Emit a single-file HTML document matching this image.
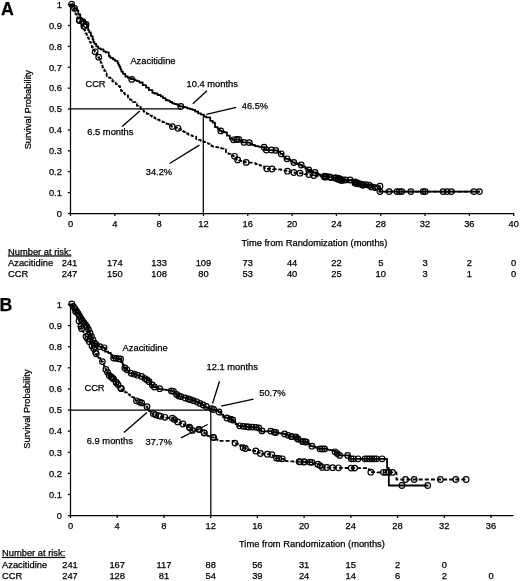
<!DOCTYPE html>
<html><head><meta charset="utf-8"><title>Survival curves</title>
<style>html,body{margin:0;padding:0;background:#fff}svg{display:block;filter:grayscale(1)}text{font-family:"Liberation Sans",sans-serif}</style></head>
<body>
<svg width="520" height="581" viewBox="0 0 520 581">
<rect width="520" height="581" fill="#fff"/>
<g stroke="#000" stroke-width="1.25" fill="none">
<line x1="70.5" y1="3.5999999999999996" x2="70.5" y2="214.0"/><line x1="70.0" y1="213.5" x2="513.8" y2="213.5"/><line x1="67.8" y1="213.50" x2="71.0" y2="213.50"/><line x1="67.8" y1="192.61" x2="71.0" y2="192.61"/><line x1="67.8" y1="171.72" x2="71.0" y2="171.72"/><line x1="67.8" y1="150.83" x2="71.0" y2="150.83"/><line x1="67.8" y1="129.94" x2="71.0" y2="129.94"/><line x1="67.8" y1="109.05" x2="71.0" y2="109.05"/><line x1="67.8" y1="88.16" x2="71.0" y2="88.16"/><line x1="67.8" y1="67.27" x2="71.0" y2="67.27"/><line x1="67.8" y1="46.38" x2="71.0" y2="46.38"/><line x1="67.8" y1="25.49" x2="71.0" y2="25.49"/><line x1="67.8" y1="4.60" x2="71.0" y2="4.60"/><line x1="70.50" y1="212.7" x2="70.50" y2="215.9"/><line x1="114.82" y1="212.7" x2="114.82" y2="215.9"/><line x1="159.14" y1="212.7" x2="159.14" y2="215.9"/><line x1="203.46" y1="212.7" x2="203.46" y2="215.9"/><line x1="247.78" y1="212.7" x2="247.78" y2="215.9"/><line x1="292.10" y1="212.7" x2="292.10" y2="215.9"/><line x1="336.42" y1="212.7" x2="336.42" y2="215.9"/><line x1="380.74" y1="212.7" x2="380.74" y2="215.9"/><line x1="425.06" y1="212.7" x2="425.06" y2="215.9"/><line x1="469.38" y1="212.7" x2="469.38" y2="215.9"/><line x1="513.70" y1="212.7" x2="513.70" y2="215.9"/>
<line x1="70.5" y1="108.8" x2="181" y2="108.8"/>
<line x1="203.3" y1="116.6" x2="203.3" y2="213.8"/>
<line x1="70.5" y1="303.5" x2="70.5" y2="516.1"/><line x1="70.0" y1="515.6" x2="513.5" y2="515.6"/><line x1="67.8" y1="515.60" x2="71.0" y2="515.60"/><line x1="67.8" y1="494.49" x2="71.0" y2="494.49"/><line x1="67.8" y1="473.38" x2="71.0" y2="473.38"/><line x1="67.8" y1="452.27" x2="71.0" y2="452.27"/><line x1="67.8" y1="431.16" x2="71.0" y2="431.16"/><line x1="67.8" y1="410.05" x2="71.0" y2="410.05"/><line x1="67.8" y1="388.94" x2="71.0" y2="388.94"/><line x1="67.8" y1="367.83" x2="71.0" y2="367.83"/><line x1="67.8" y1="346.72" x2="71.0" y2="346.72"/><line x1="67.8" y1="325.61" x2="71.0" y2="325.61"/><line x1="67.8" y1="304.50" x2="71.0" y2="304.50"/><line x1="70.50" y1="514.8000000000001" x2="70.50" y2="518.0"/><line x1="117.22" y1="514.8000000000001" x2="117.22" y2="518.0"/><line x1="163.94" y1="514.8000000000001" x2="163.94" y2="518.0"/><line x1="210.66" y1="514.8000000000001" x2="210.66" y2="518.0"/><line x1="257.38" y1="514.8000000000001" x2="257.38" y2="518.0"/><line x1="304.10" y1="514.8000000000001" x2="304.10" y2="518.0"/><line x1="350.82" y1="514.8000000000001" x2="350.82" y2="518.0"/><line x1="397.54" y1="514.8000000000001" x2="397.54" y2="518.0"/><line x1="444.26" y1="514.8000000000001" x2="444.26" y2="518.0"/><line x1="490.98" y1="514.8000000000001" x2="490.98" y2="518.0"/>
<line x1="70.5" y1="410" x2="210.8" y2="410"/>
<line x1="210.8" y1="410" x2="210.8" y2="515.5"/>
</g>
<g stroke="#000" stroke-width="1.35" fill="none">
<line x1="139.8" y1="111" x2="122.1" y2="126.6"/>
<line x1="207" y1="90.7" x2="192.8" y2="103.8"/>
<line x1="236.2" y1="107.3" x2="206.4" y2="114.4"/>
<line x1="169.6" y1="163.5" x2="199.4" y2="145.1"/>
<line x1="147" y1="412.4" x2="123.9" y2="432.5"/>
<line x1="180.9" y1="437.8" x2="207.7" y2="424.5"/>
<line x1="219.5" y1="381.2" x2="212.6" y2="403.4"/>
<line x1="253.5" y1="399.2" x2="221.2" y2="406.2"/>
</g>
<g stroke="#000" fill="none" stroke-linejoin="round">
<path d="M71.6,4.2 L72.7,4.2 L72.7,5.5 L74.4,5.5 L74.4,8.4 L75.8,8.4 L76.8,8.4 L76.8,10.4 L78.3,10.4 L78.3,14.5 L79.5,14.5 L80.3,14.5 L80.3,18.4 L81.9,18.4 L81.9,19.9 L83.1,19.9 L83.9,19.9 L83.9,22.2 L86.0,22.2 L86.0,24.1 L87.3,24.1 L87.7,24.1 L87.7,27.5 L88.1,27.5 L88.1,30.1 L88.5,30.1 L89.2,30.1 L89.2,32.3 L90.9,32.3 L90.9,36.1 L92.1,36.1 L92.6,36.1 L92.6,39.2 L93.4,39.2 L93.4,42.2 L93.9,42.2 L94.5,42.2 L94.5,43.9 L96.2,43.9 L96.2,46.4 L96.9,46.4 L98.2,46.4 L98.2,48.3 L100.6,48.3 L100.6,49.4 L102.3,49.4 L103.5,49.4 L103.5,51.3 L105.8,51.3 L105.8,52.4 L107.2,52.4 L108.8,52.4 L108.8,56.1 L110.3,56.1 L110.3,57.8 L111.4,57.8 L113.0,57.8 L113.0,59.4 L115.0,59.4 L115.0,60.8 L116.8,60.8 L117.6,60.8 L117.6,63.0 L118.5,63.0 L118.5,65.1 L119.2,65.1 L119.6,65.1 L119.6,67.0 L120.5,67.0 L120.5,69.3 L121.0,69.3 L121.4,69.3 L121.4,71.7 L123.0,71.7 L123.0,73.8 L123.8,73.8 L125.3,73.8 L125.3,76.5 L127.0,76.5 L127.9,76.5 L127.9,77.8 L130.7,77.8 L130.7,79.0 L131.7,79.0 L133.3,79.0 L133.3,79.4 L135.1,79.4 L135.1,80.3 L137.1,80.3 L137.1,81.2 L139.4,81.2 L139.4,82.5 L141.1,82.5 L142.7,82.5 L142.7,85.2 L146.1,85.2 L146.1,87.7 L147.2,87.7 L148.9,87.7 L148.9,90.2 L152.4,90.2 L152.4,92.9 L153.3,92.9 L154.5,92.9 L154.5,93.5 L157.5,93.5 L157.5,95.0 L160.7,95.0 L160.7,96.3 L161.9,96.3 L162.9,96.3 L162.9,98.1 L165.6,98.1 L165.6,100.0 L167.8,100.0 L167.8,100.7 L168.8,100.7 L170.0,100.7 L170.0,102.0 L172.2,102.0 L172.2,103.3 L174.6,103.3 L174.6,104.1 L175.7,104.1 L177.6,104.1 L177.6,105.3 L179.8,105.3 L179.8,106.4 L180.9,106.4 L182.5,106.4 L182.5,107.0 L185.0,107.0 L185.0,107.3 L187.2,107.3 L187.2,108.3 L189.9,108.3 L189.9,109.1 L191.2,109.1 L192.4,109.1 L192.4,109.8 L195.1,109.8 L195.1,111.5 L198.1,111.5 L198.1,113.4 L199.6,113.4 L201.0,113.4 L201.0,114.6 L203.9,114.6 L203.9,116.5 L204.9,116.5 L206.2,116.5 L206.2,117.4 L210.2,117.4 L210.2,120.8 L211.3,120.8 L212.8,120.8 L212.8,122.7 L215.0,122.7 L215.0,127.1 L216.5,127.1 L217.7,127.1 L217.7,128.8 L219.8,128.8 L219.8,130.9 L220.8,130.9 L221.7,130.9 L221.7,131.8 L224.8,131.8 L224.8,132.4 L226.1,132.4 L227.0,132.4 L227.0,135.7 L229.8,135.7 L229.8,138.8 L231.3,138.8 L232.4,138.8 L232.4,139.8 L233.5,139.8 L235.1,139.8 L235.1,139.7 L237.8,139.7 L237.8,139.4 L238.8,139.4 L239.7,139.4 L239.7,140.5 L242.4,140.5 L242.4,142.4 L244.0,142.4 L245.5,142.4 L245.5,142.5 L248.4,142.5 L248.4,142.6 L249.3,142.6 L250.3,142.6 L250.3,144.0 L252.2,144.0 L252.2,145.0 L255.0,145.0 L255.0,146.2 L256.7,146.2 L258.2,146.2 L258.2,146.6 L259.8,146.6 L259.8,146.9 L262.5,146.9 L262.5,147.2 L264.1,147.2 L264.9,147.2 L264.9,150.0 L266.3,150.0 L267.6,150.0 L267.6,150.2 L270.5,150.2 L270.5,150.2 L272.4,150.2 L272.4,150.3 L274.4,150.3 L274.4,150.4 L275.8,150.4 L277.4,150.4 L277.4,152.0 L280.4,152.0 L280.4,153.8 L281.2,153.8 L282.9,153.8 L282.9,156.6 L285.5,156.6 L285.5,158.8 L287.0,158.8 L288.3,158.8 L288.3,159.7 L290.5,159.7 L290.5,161.1 L292.5,161.1 L292.5,162.5 L293.8,162.5 L294.9,162.5 L294.9,163.5 L297.4,163.5 L297.4,164.2 L300.0,164.2 L300.0,165.0 L301.2,165.0 L302.1,165.0 L302.1,166.6 L305.4,166.6 L305.4,168.7 L307.6,168.7 L307.6,170.0 L308.8,170.0 L310.7,170.0 L310.7,171.8 L313.5,171.8 L313.5,172.5 L315.0,172.5 L316.3,172.5 L316.3,173.4 L318.4,173.4 L318.4,174.5 L320.1,174.5 L320.1,175.5 L323.5,175.5 L323.5,176.2 L324.5,176.2 L325.8,176.2 L325.8,176.8 L328.5,176.8 L328.5,177.1 L331.6,177.1 L331.6,177.5 L332.5,177.5 L333.9,177.5 L333.9,177.7 L336.3,177.7 L336.3,178.0 L337.5,178.0 L338.7,178.0 L338.7,178.9 L341.3,178.9 L341.3,180.0 L342.5,180.0 L350.0,180.0 L351.5,180.0 L351.5,181.4 L354.7,181.4 L354.7,182.5 L356.2,182.5 L357.9,182.5 L357.9,183.3 L361.5,183.3 L361.5,184.5 L362.5,184.5 L364.8,184.5 L364.8,184.8 L367.5,184.8 L367.5,185.0 L368.8,185.0 L370.3,185.0 L370.3,185.6 L372.8,185.6 L372.8,186.2 L375.0,186.2 L380.0,186.2 L380.0,191.6 L480.0,191.6" stroke-width="1.8"/>
<path d="M71.6,4.2 L71.9,4.2 L71.9,6.3 L72.8,6.3 L72.8,8.6 L73.7,8.6 L73.7,9.6 L74.0,9.6 L74.6,9.6 L74.6,12.5 L75.5,12.5 L75.5,13.8 L76.4,13.8 L76.4,15.7 L77.0,15.7 L77.5,15.7 L77.5,17.9 L78.3,17.9 L78.3,18.6 L79.1,18.6 L79.1,20.5 L79.5,20.5 L80.0,20.5 L80.0,21.2 L80.6,21.2 L80.6,23.5 L81.5,23.5 L81.5,25.4 L82.6,25.4 L82.6,27.7 L83.1,27.7 L83.5,27.7 L83.5,28.8 L84.5,28.8 L84.5,30.5 L85.3,30.5 L85.3,33.4 L86.8,33.4 L86.8,36.1 L87.3,36.1 L87.7,36.1 L87.7,37.5 L88.5,37.5 L88.5,38.8 L89.8,38.8 L89.8,42.1 L90.9,42.1 L90.9,44.6 L91.5,44.6 L91.8,44.6 L91.8,47.0 L92.9,47.0 L92.9,47.8 L93.8,47.8 L93.8,50.2 L94.8,50.2 L94.8,51.8 L95.1,51.8 L95.6,51.8 L95.6,53.1 L96.7,53.1 L96.7,55.6 L98.2,55.6 L98.2,57.2 L98.7,57.2 L99.1,57.2 L99.1,58.7 L99.9,58.7 L99.9,60.2 L100.7,60.2 L100.7,62.7 L101.1,62.7 L101.5,62.7 L101.5,64.5 L102.5,64.5 L102.5,67.5 L103.2,67.5 L103.2,69.3 L103.6,69.3 L104.3,69.3 L104.3,70.9 L105.6,70.9 L105.6,73.5 L106.1,73.5 L106.7,73.5 L106.7,76.1 L108.9,76.1 L108.9,77.7 L110.6,77.7 L110.6,79.5 L111.5,79.5 L112.4,79.5 L112.4,81.3 L114.6,81.3 L114.6,82.9 L115.9,82.9 L115.9,84.2 L116.9,84.2 L117.7,84.2 L117.7,85.2 L118.7,85.2 L118.7,86.1 L120.0,86.1 L120.0,88.4 L121.1,88.4 L121.1,90.9 L123.1,90.9 L123.1,92.9 L123.8,92.9 L124.7,92.9 L124.7,94.3 L126.3,94.3 L126.3,95.3 L128.0,95.3 L128.0,97.5 L130.0,97.5 L130.0,99.8 L130.8,99.8 L131.7,99.8 L131.7,100.5 L133.1,100.5 L133.1,102.1 L135.5,102.1 L135.5,103.9 L136.9,103.9 L136.9,105.8 L137.7,105.8 L138.5,105.8 L138.5,107.0 L140.7,107.0 L140.7,109.1 L142.0,109.1 L142.0,110.2 L142.9,110.2 L143.5,110.2 L143.5,111.5 L145.2,111.5 L145.2,112.7 L146.7,112.7 L146.7,113.9 L148.8,113.9 L148.8,115.4 L149.8,115.4 L150.6,115.4 L150.6,115.7 L152.0,115.7 L152.0,116.8 L154.3,116.8 L154.3,117.9 L155.5,117.9 L155.5,118.7 L157.5,118.7 L157.5,119.7 L158.4,119.7 L159.5,119.7 L159.5,120.6 L160.7,120.6 L160.7,121.5 L162.5,121.5 L162.5,122.2 L164.3,122.2 L164.3,123.1 L165.4,123.1 L166.5,123.1 L166.5,123.9 L168.8,123.9 L168.8,124.3 L170.4,124.3 L170.4,125.6 L171.6,125.6 L171.6,126.6 L172.3,126.6 L173.3,126.6 L173.3,126.8 L175.2,126.8 L175.2,127.6 L177.1,127.6 L177.1,128.3 L178.0,128.3 L178.9,128.3 L178.9,128.9 L180.8,128.9 L180.8,129.7 L182.8,129.7 L182.8,131.2 L184.0,131.2 L184.0,132.0 L186.2,132.0 L186.2,133.5 L186.9,133.5 L188.3,133.5 L188.3,134.5 L190.4,134.5 L190.4,135.3 L192.2,135.3 L192.2,136.2 L194.2,136.2 L194.2,136.6 L195.4,136.6 L196.2,136.6 L196.2,139.0 L198.0,139.0 L198.0,139.9 L200.7,139.9 L200.7,140.9 L201.7,140.9 L202.4,140.9 L202.4,141.7 L204.4,141.7 L204.4,142.1 L206.3,142.1 L206.3,143.2 L208.3,143.2 L208.3,143.8 L209.7,143.8 L209.7,145.0 L211.5,145.0 L211.5,146.2 L212.3,146.2 L212.8,146.2 L212.8,146.5 L214.6,146.5 L214.6,147.0 L216.8,147.0 L216.8,147.3 L219.3,147.3 L219.3,147.7 L221.0,147.7 L221.0,148.4 L222.4,148.4 L222.4,148.7 L223.8,148.7 L223.8,149.3 L225.0,149.3 L225.9,149.3 L225.9,152.0 L228.4,152.0 L228.4,153.8 L230.6,153.8 L230.6,154.6 L231.3,154.6 L231.8,154.6 L231.8,155.6 L233.6,155.6 L233.6,156.3 L234.5,156.3 L235.2,156.3 L235.2,157.1 L236.6,157.1 L236.6,159.9 L237.7,159.9 L238.9,159.9 L238.9,160.4 L240.2,160.4 L240.2,160.9 L242.7,160.9 L242.7,161.4 L245.0,161.4 L245.0,162.4 L246.2,162.4 L247.5,162.4 L247.5,162.5 L249.6,162.5 L249.6,162.7 L251.9,162.7 L251.9,162.8 L253.8,162.8 L253.8,163.1 L254.6,163.1 L255.6,163.1 L255.6,164.0 L257.6,164.0 L257.6,164.8 L260.1,164.8 L260.1,165.6 L262.0,165.6 L262.0,166.3 L263.1,166.3 L264.1,166.3 L264.1,168.1 L266.1,168.1 L266.1,168.8 L266.9,168.8 L267.8,168.8 L267.8,168.9 L269.3,168.9 L269.3,168.9 L271.1,168.9 L271.1,169.0 L272.0,169.0 L272.8,169.0 L272.8,169.1 L274.9,169.1 L274.9,169.2 L276.8,169.2 L276.8,169.3 L278.7,169.3 L278.7,169.4 L280.0,169.4 L281.2,169.4 L281.2,170.0 L283.3,170.0 L283.3,170.4 L285.0,170.4 L285.0,170.7 L286.6,170.7 L286.6,171.2 L287.5,171.2 L289.1,171.2 L289.1,171.6 L291.3,171.6 L291.3,172.2 L292.9,172.2 L292.9,172.5 L293.8,172.5 L294.6,172.5 L294.6,172.8 L296.3,172.8 L296.3,173.0 L298.6,173.0 L298.6,173.2 L300.0,173.2 L301.0,173.2 L301.0,173.4 L302.8,173.4 L302.8,173.7 L304.5,173.7 L304.5,174.0 L305.8,174.0 L305.8,174.3 L307.4,174.3 L307.4,174.5 L308.8,174.5 L309.5,174.5 L309.5,174.9 L311.1,174.9 L311.1,175.2 L312.8,175.2 L312.8,175.5 L313.8,175.5 L314.3,175.5 L314.3,175.7 L315.5,175.7 L315.5,176.0 L317.7,176.0 L317.7,176.3 L320.1,176.3 L320.1,176.5 L321.9,176.5 L321.9,176.9 L323.9,176.9 L323.9,177.0 L324.5,177.0 L325.1,177.0 L325.1,177.2 L326.3,177.2 L326.3,177.4 L328.0,177.4 L328.0,177.6 L329.9,177.6 L329.9,177.7 L332.1,177.7 L332.1,177.9 L334.1,177.9 L334.1,178.0 L335.0,178.0 L336.1,178.0 L336.1,178.5 L338.0,178.5 L338.0,179.2 L339.4,179.2 L339.4,180.0 L340.0,180.0 L340.8,180.0 L340.8,180.6 L342.2,180.6 L342.2,181.0 L344.5,181.0 L344.5,181.6 L346.9,181.6 L346.9,181.9 L349.0,181.9 L349.0,182.2 L350.7,182.2 L350.7,182.4 L353.2,182.4 L353.2,183.0 L354.5,183.0 L354.5,183.5 L356.4,183.5 L356.4,183.8 L357.5,183.8 L358.1,183.8 L358.1,184.5 L360.1,184.5 L360.1,185.0 L361.2,185.0 L362.4,185.0 L362.4,185.4 L365.2,185.4 L365.2,185.8 L366.8,185.8 L366.8,186.1 L368.1,186.1 L368.1,186.3 L369.9,186.3 L369.9,186.8 L371.8,186.8 L371.8,187.1 L374.2,187.1 L374.2,187.5 L375.0,187.5 L375.7,187.5 L375.7,189.5 L377.1,189.5 L377.1,190.8 L379.3,190.8 L379.3,191.6 L380.0,191.6 L480.0,191.6" stroke-width="1.8" stroke-dasharray="4 2.1"/>
<path d="M71.8,304.0 L72.5,304.0 L72.5,306.3 L74.1,306.3 L74.1,309.7 L76.1,309.7 L76.1,312.3 L77.3,312.3 L78.8,312.3 L78.8,314.3 L80.4,314.3 L80.4,317.7 L81.8,317.7 L81.8,321.0 L82.5,321.0 L83.3,321.0 L83.3,322.2 L85.2,322.2 L85.2,325.3 L87.1,325.3 L87.1,327.9 L87.7,327.9 L88.1,327.9 L88.1,331.3 L89.5,331.3 L89.5,334.0 L90.6,334.0 L90.6,335.7 L91.2,335.7 L91.7,335.7 L91.7,339.7 L92.7,339.7 L92.7,341.3 L94.2,341.3 L94.2,343.4 L94.6,343.4 L96.0,343.4 L96.0,344.4 L98.8,344.4 L98.8,346.6 L99.8,346.6 L100.7,346.6 L100.7,347.0 L103.3,347.0 L103.3,347.8 L104.1,347.8 L105.1,347.8 L105.1,351.7 L108.2,351.7 L108.2,353.0 L110.2,353.0 L110.9,353.0 L110.9,354.8 L112.2,354.8 L112.2,358.1 L113.6,358.1 L115.1,358.1 L115.1,358.4 L117.1,358.4 L117.1,358.6 L119.0,358.6 L119.0,359.0 L120.6,359.0 L121.3,359.0 L121.3,362.2 L122.7,362.2 L122.7,364.7 L123.8,364.7 L123.8,368.0 L124.8,368.0 L126.0,368.0 L126.0,370.7 L129.2,370.7 L129.2,373.3 L131.2,373.3 L132.4,373.3 L132.4,373.7 L134.6,373.7 L134.6,374.6 L137.2,374.6 L137.2,375.5 L139.9,375.5 L139.9,376.4 L141.7,376.4 L143.5,376.4 L143.5,378.5 L146.8,378.5 L146.8,380.7 L148.1,380.7 L150.4,380.7 L150.4,384.8 L153.0,384.8 L153.0,387.0 L154.4,387.0 L155.8,387.0 L155.8,387.7 L158.5,387.7 L158.5,389.1 L160.8,389.1 L162.5,389.1 L162.5,389.6 L166.1,389.6 L166.1,390.2 L167.1,390.2 L168.6,390.2 L168.6,390.7 L172.1,390.7 L172.1,391.3 L173.5,391.3 L174.5,391.3 L174.5,393.6 L176.6,393.6 L176.6,395.5 L177.7,395.5 L178.8,395.5 L178.8,396.7 L182.7,396.7 L182.7,397.6 L184.0,397.6 L186.2,397.6 L186.2,398.7 L188.9,398.7 L188.9,399.7 L190.4,399.7 L192.3,399.7 L192.3,400.4 L195.4,400.4 L195.4,401.8 L196.7,401.8 L198.4,401.8 L198.4,403.2 L201.0,403.2 L201.0,405.0 L203.1,405.0 L203.9,405.0 L203.9,406.9 L206.3,406.9 L206.3,407.5 L209.3,407.5 L209.3,408.5 L210.8,408.5 L211.6,408.5 L211.6,409.4 L213.3,409.4 L213.3,409.9 L216.5,409.9 L216.5,410.8 L217.7,410.8 L218.7,410.8 L218.7,412.0 L220.5,412.0 L220.5,414.6 L223.1,414.6 L223.1,417.2 L224.6,417.2 L225.9,417.2 L225.9,417.9 L229.0,417.9 L229.0,418.9 L231.4,418.9 L231.4,420.0 L232.7,420.0 L233.8,420.0 L233.8,421.8 L235.5,421.8 L235.5,424.0 L238.0,424.0 L238.0,425.8 L239.6,425.8 L241.5,425.8 L241.5,426.1 L244.7,426.1 L244.7,426.5 L246.7,426.5 L246.7,426.9 L247.7,426.9 L248.7,426.9 L248.7,427.0 L250.8,427.0 L250.8,427.2 L254.2,427.2 L254.2,427.3 L256.9,427.3 L256.9,427.4 L258.1,427.4 L259.1,427.4 L259.1,430.1 L261.2,430.1 L261.2,431.5 L262.7,431.5 L263.9,431.5 L263.9,431.3 L267.5,431.3 L267.5,431.2 L269.9,431.2 L269.9,431.1 L270.8,431.1 L272.0,431.1 L272.0,432.0 L275.3,432.0 L275.3,432.7 L276.5,432.7 L277.8,432.7 L277.8,433.2 L280.5,433.2 L280.5,433.5 L283.8,433.5 L283.8,433.9 L284.6,433.9 L285.5,433.9 L285.5,434.4 L287.4,434.4 L287.4,435.3 L289.9,435.3 L289.9,436.6 L291.5,436.6 L293.1,436.6 L293.1,436.7 L295.0,436.7 L295.0,436.9 L295.8,436.9 L297.1,436.9 L297.1,438.6 L298.7,438.6 L298.7,441.5 L300.4,441.5 L301.9,441.5 L301.9,441.8 L305.2,441.8 L305.2,442.0 L306.2,442.0 L307.3,442.0 L307.3,444.0 L310.4,444.0 L310.4,446.2 L311.9,446.2 L313.1,446.2 L313.1,446.7 L315.6,446.7 L315.6,447.7 L317.9,447.7 L317.9,448.9 L318.8,448.9 L326.9,448.9 L327.7,448.9 L327.7,449.8 L330.2,449.8 L330.2,450.1 L333.0,450.1 L333.0,450.8 L333.8,450.8 L335.3,450.8 L335.3,452.9 L338.4,452.9 L338.4,455.4 L339.6,455.4 L347.7,455.4 L349.3,455.4 L349.3,458.8 L351.2,458.8 L387.1,458.8 L387.1,468.0 L388.8,468.0 L388.8,485.5 L428.4,485.5" stroke-width="1.8"/>
<path d="M71.8,304.0 L72.3,304.0 L72.3,306.3 L73.0,306.3 L73.0,308.7 L74.1,308.7 L74.1,310.3 L75.2,310.3 L75.2,311.4 L75.6,311.4 L76.0,311.4 L76.0,313.6 L76.6,313.6 L76.6,314.6 L77.2,314.6 L77.2,317.1 L78.0,317.1 L78.0,318.2 L78.6,318.2 L78.6,321.0 L79.0,321.0 L79.4,321.0 L79.4,323.3 L80.1,323.3 L80.1,324.2 L80.6,324.2 L80.6,326.3 L81.3,326.3 L81.3,328.7 L81.6,328.7 L82.2,328.7 L82.2,331.1 L83.4,331.1 L83.4,333.5 L84.2,333.5 L84.2,334.4 L85.5,334.4 L85.5,336.5 L86.0,336.5 L86.8,336.5 L86.8,337.6 L87.6,337.6 L87.6,340.3 L88.7,340.3 L88.7,341.7 L89.4,341.7 L90.1,341.7 L90.1,343.4 L90.8,343.4 L90.8,345.7 L91.9,345.7 L91.9,347.6 L93.3,347.6 L93.3,348.6 L93.7,348.6 L94.0,348.6 L94.0,350.8 L94.6,350.8 L94.6,351.8 L95.8,351.8 L95.8,353.8 L96.3,353.8 L96.8,353.8 L96.8,355.8 L98.4,355.8 L98.4,357.9 L100.1,357.9 L100.1,360.6 L101.4,360.6 L101.4,361.6 L102.4,361.6 L103.0,361.6 L103.0,364.2 L103.8,364.2 L103.8,365.9 L104.6,365.9 L104.6,367.3 L105.6,367.3 L105.6,369.4 L105.9,369.4 L106.5,369.4 L106.5,372.0 L107.4,372.0 L107.4,373.2 L108.9,373.2 L108.9,375.4 L109.3,375.4 L110.3,375.4 L110.3,376.6 L111.9,376.6 L111.9,377.9 L113.6,377.9 L113.6,379.6 L114.2,379.6 L115.0,379.6 L115.0,381.7 L116.5,381.7 L116.5,385.5 L118.0,385.5 L118.0,386.8 L120.1,386.8 L120.1,388.1 L120.6,388.1 L121.6,388.1 L121.6,389.7 L123.1,389.7 L123.1,391.4 L125.0,391.4 L125.0,392.3 L125.9,392.3 L126.9,392.3 L126.9,393.5 L128.7,393.5 L128.7,394.6 L130.0,394.6 L130.0,395.5 L131.2,395.5 L132.0,395.5 L132.0,397.1 L133.9,397.1 L133.9,398.1 L135.7,398.1 L135.7,400.8 L136.4,400.8 L137.3,400.8 L137.3,401.7 L138.9,401.7 L138.9,402.5 L140.9,402.5 L140.9,402.9 L141.7,402.9 L143.0,402.9 L143.0,403.9 L144.2,403.9 L144.2,404.7 L146.1,404.7 L146.1,406.7 L147.0,406.7 L147.5,406.7 L147.5,408.9 L149.1,408.9 L149.1,411.3 L150.2,411.3 L151.3,411.3 L151.3,413.5 L153.3,413.5 L153.3,414.5 L154.4,414.5 L155.3,414.5 L155.3,415.2 L157.0,415.2 L157.0,415.8 L158.3,415.8 L158.3,416.0 L159.7,416.0 L160.7,416.0 L160.7,416.6 L162.6,416.6 L162.6,417.0 L164.1,417.0 L164.1,417.3 L165.0,417.3 L165.8,417.3 L165.8,417.6 L167.1,417.6 L167.1,417.8 L168.8,417.8 L168.8,417.9 L171.2,417.9 L171.2,418.1 L172.4,418.1 L173.2,418.1 L173.2,419.4 L175.3,419.4 L175.3,421.2 L177.0,421.2 L177.0,421.9 L177.7,421.9 L179.1,421.9 L179.1,422.6 L180.4,422.6 L180.4,423.3 L182.2,423.3 L182.2,424.0 L183.0,424.0 L183.9,424.0 L183.9,425.2 L186.7,425.2 L186.7,426.2 L188.5,426.2 L188.5,427.2 L189.3,427.2 L190.0,427.2 L190.0,428.9 L191.9,428.9 L191.9,430.4 L192.5,430.4 L193.7,430.4 L193.7,430.1 L195.5,430.1 L195.5,429.8 L197.8,429.8 L197.8,429.3 L198.8,429.3 L199.6,429.3 L199.6,430.1 L202.6,430.1 L202.6,432.2 L204.3,432.2 L204.3,433.4 L205.0,433.4 L205.9,433.4 L205.9,434.6 L207.4,434.6 L207.4,435.8 L208.9,435.8 L208.9,436.2 L211.7,436.2 L211.7,437.3 L213.1,437.3 L213.8,437.3 L213.8,438.3 L215.7,438.3 L215.7,439.4 L217.5,439.4 L217.5,440.4 L219.5,440.4 L219.5,440.8 L220.0,440.8 L232.7,440.8 L233.9,440.8 L233.9,443.1 L235.0,443.1 L236.1,443.1 L236.1,444.2 L238.2,444.2 L238.2,445.0 L240.0,445.0 L240.0,445.8 L242.2,445.8 L242.2,447.7 L243.1,447.7 L243.9,447.7 L243.9,448.2 L245.8,448.2 L245.8,449.0 L247.8,449.0 L247.8,449.5 L249.1,449.5 L249.1,450.0 L250.0,450.0 L251.1,450.0 L251.1,450.3 L252.7,450.3 L252.7,450.6 L254.7,450.6 L254.7,451.0 L256.4,451.0 L256.4,451.2 L256.9,451.2 L257.9,451.2 L257.9,452.9 L259.7,452.9 L259.7,453.5 L260.4,453.5 L261.7,453.5 L261.7,453.8 L263.2,453.8 L263.2,453.8 L264.5,453.8 L264.5,454.0 L266.0,454.0 L266.0,454.2 L267.3,454.2 L268.8,454.2 L268.8,454.3 L270.7,454.3 L270.7,454.6 L271.9,454.6 L272.8,454.6 L272.8,455.8 L275.6,455.8 L275.6,458.1 L276.5,458.1 L277.6,458.1 L277.6,458.3 L279.1,458.3 L279.1,458.6 L281.6,458.6 L281.6,458.8 L282.3,458.8 L283.6,458.8 L283.6,459.7 L285.8,459.7 L285.8,461.1 L286.9,461.1 L287.6,461.1 L287.6,461.2 L290.2,461.2 L290.2,461.3 L291.4,461.3 L291.4,461.4 L293.0,461.4 L293.0,461.5 L293.8,461.5 L294.5,461.5 L294.5,461.6 L296.4,461.6 L296.4,461.7 L298.3,461.7 L298.3,461.7 L300.6,461.7 L300.6,461.8 L302.9,461.8 L302.9,461.9 L305.0,461.9 L305.0,462.0 L306.6,462.0 L306.6,462.1 L308.3,462.1 L308.3,462.2 L309.6,462.2 L309.6,462.2 L312.0,462.2 L312.0,462.3 L313.1,462.3 L313.8,462.3 L313.8,463.0 L315.9,463.0 L315.9,463.7 L318.2,463.7 L318.2,464.6 L318.8,464.6 L319.9,464.6 L319.9,465.4 L321.4,465.4 L321.4,467.4 L322.3,467.4 L323.4,467.4 L323.4,467.5 L324.8,467.5 L324.8,467.5 L327.4,467.5 L327.4,467.6 L328.7,467.6 L328.7,467.6 L330.5,467.6 L330.5,467.7 L333.2,467.7 L333.2,467.7 L335.6,467.7 L335.6,467.7 L337.9,467.7 L337.9,467.8 L339.7,467.8 L339.7,467.8 L341.2,467.8 L341.2,467.9 L343.3,467.9 L343.3,467.9 L344.7,467.9 L344.7,468.0 L346.1,468.0 L346.1,468.0 L347.9,468.0 L347.9,468.1 L349.1,468.1 L349.1,468.1 L350.0,468.1 L368.5,468.1 L369.0,468.1 L369.0,470.0 L370.2,470.0 L370.2,472.2 L370.8,472.2 L371.9,472.2 L371.9,472.2 L373.9,472.2 L373.9,472.2 L375.7,472.2 L375.7,472.2 L377.2,472.2 L377.2,472.3 L379.3,472.3 L379.3,472.3 L380.5,472.3 L380.5,472.3 L382.2,472.3 L382.2,472.3 L384.5,472.3 L384.5,472.3 L386.6,472.3 L386.6,472.3 L388.7,472.3 L388.7,472.3 L390.1,472.3 L390.1,472.3 L391.9,472.3 L391.9,472.4 L393.6,472.4 L393.6,472.4 L395.6,472.4 L395.6,472.4 L396.5,472.4 L396.5,479.5 L466.6,479.5" stroke-width="1.8" stroke-dasharray="4 2.1"/>
</g>
<g stroke="#000" stroke-width="1.2" fill="none">
<circle cx="71.6" cy="4.2" r="2.8"/><circle cx="79.5" cy="19.9" r="2.8"/><circle cx="82.8" cy="21.7" r="2.8"/><circle cx="86.1" cy="24.5" r="2.8"/><circle cx="131.7" cy="79.4" r="2.8"/><circle cx="180.9" cy="106.4" r="2.8"/><circle cx="220.8" cy="130.9" r="2.8"/><circle cx="233.5" cy="139.8" r="2.8"/><circle cx="236.6" cy="139.4" r="2.8"/><circle cx="238.8" cy="139.4" r="2.8"/><circle cx="244.0" cy="142.4" r="2.8"/><circle cx="249.3" cy="142.6" r="2.8"/><circle cx="264.1" cy="147.2" r="2.8"/><circle cx="266.3" cy="150.0" r="2.8"/><circle cx="271.5" cy="150.0" r="2.8"/><circle cx="275.8" cy="150.4" r="2.8"/><circle cx="281.2" cy="153.8" r="2.8"/><circle cx="287.0" cy="158.8" r="2.8"/><circle cx="293.8" cy="162.5" r="2.8"/><circle cx="301.2" cy="165.0" r="2.8"/><circle cx="308.8" cy="170.0" r="2.8"/><circle cx="315.0" cy="172.5" r="2.8"/><circle cx="324.5" cy="176.2" r="2.8"/><circle cx="350.0" cy="180.0" r="2.8"/><circle cx="360.0" cy="184.0" r="2.8"/><circle cx="366.0" cy="184.6" r="2.8"/><circle cx="369.0" cy="185.2" r="2.8"/><circle cx="372.3" cy="186.8" r="2.8"/><circle cx="375.4" cy="187.7" r="2.8"/><circle cx="380.0" cy="186.2" r="2.8"/><circle cx="380.0" cy="191.6" r="2.8"/><circle cx="389.2" cy="191.6" r="2.8"/><circle cx="396.9" cy="191.6" r="2.8"/><circle cx="399.4" cy="191.6" r="2.8"/><circle cx="401.8" cy="191.6" r="2.8"/><circle cx="410.8" cy="191.6" r="2.8"/><circle cx="423.1" cy="191.6" r="2.8"/><circle cx="425.2" cy="191.6" r="2.8"/><circle cx="443.1" cy="191.6" r="2.8"/><circle cx="447.1" cy="191.6" r="2.8"/><circle cx="451.4" cy="191.6" r="2.8"/><circle cx="473.8" cy="191.6" r="2.8"/><circle cx="479.4" cy="191.6" r="2.8"/><circle cx="326.5" cy="176.6" r="2.8"/><circle cx="329.5" cy="177.0" r="2.8"/><circle cx="336.0" cy="177.8" r="2.8"/><circle cx="338.0" cy="178.2" r="2.8"/><circle cx="340.0" cy="179.0" r="2.8"/><circle cx="342.5" cy="180.0" r="2.8"/><circle cx="345.5" cy="180.0" r="2.8"/><circle cx="355.0" cy="182.0" r="2.8"/><circle cx="357.5" cy="182.9" r="2.8"/><circle cx="362.5" cy="184.5" r="2.8"/>
<circle cx="74.6" cy="8.4" r="2.8"/><circle cx="79.3" cy="20.5" r="2.8"/><circle cx="84.0" cy="26.5" r="2.8"/><circle cx="95.1" cy="51.8" r="2.8"/><circle cx="98.7" cy="57.2" r="2.8"/><circle cx="172.3" cy="126.6" r="2.8"/><circle cx="178.0" cy="128.3" r="2.8"/><circle cx="234.5" cy="156.3" r="2.8"/><circle cx="237.7" cy="159.9" r="2.8"/><circle cx="246.2" cy="162.4" r="2.8"/><circle cx="266.9" cy="168.8" r="2.8"/><circle cx="272.0" cy="169.0" r="2.8"/><circle cx="287.5" cy="171.2" r="2.8"/><circle cx="293.8" cy="172.5" r="2.8"/><circle cx="300.0" cy="173.2" r="2.8"/><circle cx="308.8" cy="174.5" r="2.8"/><circle cx="313.8" cy="175.5" r="2.8"/><circle cx="324.5" cy="177.0" r="2.8"/><circle cx="335.0" cy="178.0" r="2.8"/><circle cx="340.0" cy="180.0" r="2.8"/><circle cx="357.5" cy="183.8" r="2.8"/><circle cx="326.0" cy="177.1" r="2.8"/><circle cx="331.0" cy="177.6" r="2.8"/><circle cx="338.0" cy="179.2" r="2.8"/><circle cx="342.0" cy="180.4" r="2.8"/><circle cx="355.0" cy="183.2" r="2.8"/><circle cx="363.0" cy="185.3" r="2.8"/><circle cx="371.0" cy="186.8" r="2.8"/>
<circle cx="71.8" cy="304.0" r="2.8"/><circle cx="73.5" cy="306.6" r="2.8"/><circle cx="75.0" cy="308.8" r="2.8"/><circle cx="76.5" cy="311.1" r="2.8"/><circle cx="78.0" cy="313.5" r="2.8"/><circle cx="79.5" cy="316.0" r="2.8"/><circle cx="81.0" cy="318.5" r="2.8"/><circle cx="82.5" cy="321.0" r="2.8"/><circle cx="84.0" cy="323.0" r="2.8"/><circle cx="85.5" cy="325.0" r="2.8"/><circle cx="87.0" cy="327.0" r="2.8"/><circle cx="88.5" cy="329.7" r="2.8"/><circle cx="90.0" cy="333.0" r="2.8"/><circle cx="91.5" cy="336.4" r="2.8"/><circle cx="93.0" cy="339.8" r="2.8"/><circle cx="94.5" cy="343.2" r="2.8"/><circle cx="96.0" cy="344.3" r="2.8"/><circle cx="99.8" cy="346.6" r="2.8"/><circle cx="104.1" cy="347.8" r="2.8"/><circle cx="113.6" cy="358.1" r="2.8"/><circle cx="116.2" cy="358.4" r="2.8"/><circle cx="118.8" cy="358.8" r="2.8"/><circle cx="120.6" cy="359.0" r="2.8"/><circle cx="124.8" cy="368.0" r="2.8"/><circle cx="127.0" cy="369.8" r="2.8"/><circle cx="131.2" cy="373.3" r="2.8"/><circle cx="134.3" cy="374.2" r="2.8"/><circle cx="137.5" cy="375.2" r="2.8"/><circle cx="141.7" cy="376.4" r="2.8"/><circle cx="145.0" cy="378.6" r="2.8"/><circle cx="147.0" cy="380.0" r="2.8"/><circle cx="149.1" cy="381.7" r="2.8"/><circle cx="152.3" cy="384.9" r="2.8"/><circle cx="154.4" cy="387.0" r="2.8"/><circle cx="159.7" cy="388.7" r="2.8"/><circle cx="171.4" cy="390.9" r="2.8"/><circle cx="173.5" cy="391.3" r="2.8"/><circle cx="176.6" cy="394.4" r="2.8"/><circle cx="178.8" cy="395.9" r="2.8"/><circle cx="180.9" cy="396.6" r="2.8"/><circle cx="185.1" cy="398.0" r="2.8"/><circle cx="188.3" cy="399.0" r="2.8"/><circle cx="190.4" cy="399.7" r="2.8"/><circle cx="193.5" cy="400.7" r="2.8"/><circle cx="196.7" cy="401.8" r="2.8"/><circle cx="199.9" cy="403.4" r="2.8"/><circle cx="203.1" cy="405.0" r="2.8"/><circle cx="206.3" cy="406.5" r="2.8"/><circle cx="211.5" cy="408.7" r="2.8"/><circle cx="213.7" cy="409.5" r="2.8"/><circle cx="219.0" cy="412.0" r="2.8"/><circle cx="226.9" cy="418.0" r="2.8"/><circle cx="230.4" cy="419.2" r="2.8"/><circle cx="232.7" cy="420.0" r="2.8"/><circle cx="239.6" cy="425.8" r="2.8"/><circle cx="243.1" cy="426.3" r="2.8"/><circle cx="246.5" cy="426.7" r="2.8"/><circle cx="248.8" cy="427.0" r="2.8"/><circle cx="252.3" cy="427.1" r="2.8"/><circle cx="255.8" cy="427.3" r="2.8"/><circle cx="258.8" cy="428.0" r="2.8"/><circle cx="262.0" cy="430.9" r="2.8"/><circle cx="270.8" cy="431.1" r="2.8"/><circle cx="274.2" cy="432.1" r="2.8"/><circle cx="275.8" cy="432.5" r="2.8"/><circle cx="284.6" cy="433.9" r="2.8"/><circle cx="288.1" cy="435.3" r="2.8"/><circle cx="291.2" cy="436.5" r="2.8"/><circle cx="291.5" cy="436.6" r="2.8"/><circle cx="295.8" cy="436.9" r="2.8"/><circle cx="297.3" cy="438.4" r="2.8"/><circle cx="298.1" cy="439.2" r="2.8"/><circle cx="302.7" cy="441.7" r="2.8"/><circle cx="303.1" cy="441.7" r="2.8"/><circle cx="305.4" cy="441.9" r="2.8"/><circle cx="306.2" cy="442.0" r="2.8"/><circle cx="311.9" cy="446.2" r="2.8"/><circle cx="320.0" cy="448.9" r="2.8"/><circle cx="322.3" cy="448.9" r="2.8"/><circle cx="324.6" cy="448.9" r="2.8"/><circle cx="335.0" cy="451.8" r="2.8"/><circle cx="337.3" cy="453.6" r="2.8"/><circle cx="339.6" cy="455.4" r="2.8"/><circle cx="347.7" cy="455.4" r="2.8"/><circle cx="351.2" cy="458.8" r="2.8"/><circle cx="353.5" cy="458.8" r="2.8"/><circle cx="358.1" cy="458.8" r="2.8"/><circle cx="365.0" cy="458.8" r="2.8"/><circle cx="367.3" cy="458.8" r="2.8"/><circle cx="369.6" cy="458.8" r="2.8"/><circle cx="371.9" cy="458.8" r="2.8"/><circle cx="374.2" cy="458.8" r="2.8"/><circle cx="376.5" cy="458.8" r="2.8"/><circle cx="382.1" cy="458.8" r="2.8"/><circle cx="401.9" cy="485.5" r="2.8"/><circle cx="427.7" cy="485.5" r="2.8"/>
<circle cx="75.6" cy="311.4" r="2.8"/><circle cx="79.0" cy="321.0" r="2.8"/><circle cx="80.8" cy="326.3" r="2.8"/><circle cx="81.6" cy="328.7" r="2.8"/><circle cx="86.0" cy="336.5" r="2.8"/><circle cx="87.7" cy="339.1" r="2.8"/><circle cx="89.4" cy="341.7" r="2.8"/><circle cx="92.0" cy="345.9" r="2.8"/><circle cx="93.7" cy="348.6" r="2.8"/><circle cx="95.5" cy="352.2" r="2.8"/><circle cx="96.3" cy="353.8" r="2.8"/><circle cx="102.4" cy="361.6" r="2.8"/><circle cx="105.9" cy="369.4" r="2.8"/><circle cx="107.6" cy="372.4" r="2.8"/><circle cx="109.3" cy="375.4" r="2.8"/><circle cx="111.1" cy="376.9" r="2.8"/><circle cx="111.9" cy="377.6" r="2.8"/><circle cx="113.2" cy="378.7" r="2.8"/><circle cx="113.6" cy="379.1" r="2.8"/><circle cx="116.2" cy="382.3" r="2.8"/><circle cx="116.3" cy="382.4" r="2.8"/><circle cx="118.0" cy="384.6" r="2.8"/><circle cx="120.6" cy="388.1" r="2.8"/><circle cx="121.4" cy="388.7" r="2.8"/><circle cx="136.4" cy="400.8" r="2.8"/><circle cx="139.6" cy="402.1" r="2.8"/><circle cx="141.7" cy="402.9" r="2.8"/><circle cx="147.0" cy="406.7" r="2.8"/><circle cx="153.4" cy="413.7" r="2.8"/><circle cx="155.5" cy="414.8" r="2.8"/><circle cx="158.7" cy="415.7" r="2.8"/><circle cx="160.8" cy="416.3" r="2.8"/><circle cx="165.0" cy="417.3" r="2.8"/><circle cx="172.4" cy="418.1" r="2.8"/><circle cx="174.5" cy="419.6" r="2.8"/><circle cx="177.7" cy="421.9" r="2.8"/><circle cx="183.0" cy="424.0" r="2.8"/><circle cx="189.3" cy="427.2" r="2.8"/><circle cx="190.0" cy="427.9" r="2.8"/><circle cx="192.5" cy="430.4" r="2.8"/><circle cx="198.8" cy="429.3" r="2.8"/><circle cx="199.2" cy="429.6" r="2.8"/><circle cx="204.1" cy="432.8" r="2.8"/><circle cx="204.3" cy="432.9" r="2.8"/><circle cx="213.1" cy="437.3" r="2.8"/><circle cx="213.7" cy="437.6" r="2.8"/><circle cx="235.0" cy="443.1" r="2.8"/><circle cx="243.1" cy="447.7" r="2.8"/><circle cx="245.4" cy="448.5" r="2.8"/><circle cx="255.8" cy="451.0" r="2.8"/><circle cx="260.4" cy="453.5" r="2.8"/><circle cx="267.3" cy="454.2" r="2.8"/><circle cx="271.9" cy="454.6" r="2.8"/><circle cx="276.5" cy="458.1" r="2.8"/><circle cx="278.8" cy="458.4" r="2.8"/><circle cx="282.3" cy="458.8" r="2.8"/><circle cx="299.2" cy="461.7" r="2.8"/><circle cx="300.3" cy="461.8" r="2.8"/><circle cx="303.8" cy="461.9" r="2.8"/><circle cx="304.2" cy="461.9" r="2.8"/><circle cx="310.0" cy="462.2" r="2.8"/><circle cx="311.9" cy="462.3" r="2.8"/><circle cx="317.7" cy="464.2" r="2.8"/><circle cx="320.0" cy="465.6" r="2.8"/><circle cx="322.3" cy="467.4" r="2.8"/><circle cx="326.9" cy="467.5" r="2.8"/><circle cx="332.7" cy="467.7" r="2.8"/><circle cx="338.5" cy="467.8" r="2.8"/><circle cx="351.2" cy="468.1" r="2.8"/><circle cx="354.6" cy="468.1" r="2.8"/><circle cx="370.8" cy="472.2" r="2.8"/><circle cx="383.5" cy="472.3" r="2.8"/><circle cx="385.9" cy="472.3" r="2.8"/><circle cx="388.7" cy="472.3" r="2.8"/><circle cx="392.5" cy="472.4" r="2.8"/><circle cx="405.5" cy="479.5" r="2.8"/><circle cx="414.2" cy="479.5" r="2.8"/><circle cx="440.4" cy="479.5" r="2.8"/><circle cx="455.8" cy="479.5" r="2.8"/><circle cx="466.1" cy="479.5" r="2.8"/>
</g>
<g font-family="Liberation Sans, sans-serif" font-size="9.33" fill="#000" stroke="#000" stroke-width="0.25">
<text x="61.9" y="216.80" text-anchor="end">0</text><text x="61.9" y="195.91" text-anchor="end">0.1</text><text x="61.9" y="175.02" text-anchor="end">0.2</text><text x="61.9" y="154.13" text-anchor="end">0.3</text><text x="61.9" y="133.24" text-anchor="end">0.4</text><text x="61.9" y="112.35" text-anchor="end">0.5</text><text x="61.9" y="91.46" text-anchor="end">0.6</text><text x="61.9" y="70.57" text-anchor="end">0.7</text><text x="61.9" y="49.68" text-anchor="end">0.8</text><text x="61.9" y="28.79" text-anchor="end">0.9</text><text x="61.9" y="7.90" text-anchor="end">1</text><text x="70.50" y="227.20" text-anchor="middle">0</text><text x="114.82" y="227.20" text-anchor="middle">4</text><text x="159.14" y="227.20" text-anchor="middle">8</text><text x="203.46" y="227.20" text-anchor="middle">12</text><text x="247.78" y="227.20" text-anchor="middle">16</text><text x="292.10" y="227.20" text-anchor="middle">20</text><text x="336.42" y="227.20" text-anchor="middle">24</text><text x="380.74" y="227.20" text-anchor="middle">28</text><text x="425.06" y="227.20" text-anchor="middle">32</text><text x="469.38" y="227.20" text-anchor="middle">36</text><text x="513.70" y="227.20" text-anchor="middle">40</text>
<text x="61.9" y="518.90" text-anchor="end">0</text><text x="61.9" y="497.79" text-anchor="end">0.1</text><text x="61.9" y="476.68" text-anchor="end">0.2</text><text x="61.9" y="455.57" text-anchor="end">0.3</text><text x="61.9" y="434.46" text-anchor="end">0.4</text><text x="61.9" y="413.35" text-anchor="end">0.5</text><text x="61.9" y="392.24" text-anchor="end">0.6</text><text x="61.9" y="371.13" text-anchor="end">0.7</text><text x="61.9" y="350.02" text-anchor="end">0.8</text><text x="61.9" y="328.91" text-anchor="end">0.9</text><text x="61.9" y="307.80" text-anchor="end">1</text><text x="70.50" y="529.30" text-anchor="middle">0</text><text x="117.22" y="529.30" text-anchor="middle">4</text><text x="163.94" y="529.30" text-anchor="middle">8</text><text x="210.66" y="529.30" text-anchor="middle">12</text><text x="257.38" y="529.30" text-anchor="middle">16</text><text x="304.10" y="529.30" text-anchor="middle">20</text><text x="350.82" y="529.30" text-anchor="middle">24</text><text x="397.54" y="529.30" text-anchor="middle">28</text><text x="444.26" y="529.30" text-anchor="middle">32</text><text x="490.98" y="529.30" text-anchor="middle">36</text>
<text x="1.1" y="14.6" font-size="17.8" font-weight="bold">A</text>
<text x="-0.5" y="310.9" font-size="17.8" font-weight="bold">B</text>
<text transform="translate(30.9,109.7) rotate(-90)" text-anchor="middle">Survival Probability</text>
<text transform="translate(29.6,409.1) rotate(-90)" text-anchor="middle">Survival Probability</text>
<text x="130.4" y="63.7" >Azacitidine</text>
<text x="85.4" y="86.7" >CCR</text>
<text x="186.5" y="87.3" >10.4 months</text>
<text x="241.7" y="108.5" >46.5%</text>
<text x="87.3" y="135.4" >6.5 months</text>
<text x="145.7" y="175.2" >34.2%</text>
<text x="241.5" y="245.8" >Time from Randomization (months)</text>
<text x="8" y="254.5" text-decoration="underline">Number at risk:</text>
<text x="8" y="265.6" >Azacitidine</text>
<text x="8" y="277" >CCR</text>
<text x="69.50" y="265.6" text-anchor="middle">241</text>
<text x="114.82" y="265.6" text-anchor="middle">174</text>
<text x="159.14" y="265.6" text-anchor="middle">133</text>
<text x="203.46" y="265.6" text-anchor="middle">109</text>
<text x="247.78" y="265.6" text-anchor="middle">73</text>
<text x="292.10" y="265.6" text-anchor="middle">44</text>
<text x="336.42" y="265.6" text-anchor="middle">22</text>
<text x="380.74" y="265.6" text-anchor="middle">5</text>
<text x="425.06" y="265.6" text-anchor="middle">3</text>
<text x="469.38" y="265.6" text-anchor="middle">2</text>
<text x="513.70" y="265.6" text-anchor="middle">0</text>
<text x="69.50" y="277" text-anchor="middle">247</text>
<text x="114.82" y="277" text-anchor="middle">150</text>
<text x="159.14" y="277" text-anchor="middle">108</text>
<text x="203.46" y="277" text-anchor="middle">80</text>
<text x="247.78" y="277" text-anchor="middle">53</text>
<text x="292.10" y="277" text-anchor="middle">40</text>
<text x="336.42" y="277" text-anchor="middle">25</text>
<text x="380.74" y="277" text-anchor="middle">10</text>
<text x="425.06" y="277" text-anchor="middle">3</text>
<text x="469.38" y="277" text-anchor="middle">1</text>
<text x="513.70" y="277" text-anchor="middle">0</text>
<text x="122.6" y="350.7" >Azacitidine</text>
<text x="84.4" y="390.9" >CCR</text>
<text x="206.6" y="370.4" >12.1 months</text>
<text x="259.2" y="395.8" >50.7%</text>
<text x="86.8" y="443.6" >6.9 months</text>
<text x="145.5" y="444.6" >37.7%</text>
<text x="239" y="547" >Time from Randomization (months)</text>
<text x="2" y="556" text-decoration="underline">Number at risk:</text>
<text x="2" y="568" >Azacitidine</text>
<text x="2" y="579.4" >CCR</text>
<text x="70.00" y="568" text-anchor="middle">241</text>
<text x="117.22" y="568" text-anchor="middle">167</text>
<text x="163.94" y="568" text-anchor="middle">117</text>
<text x="210.66" y="568" text-anchor="middle">88</text>
<text x="257.38" y="568" text-anchor="middle">56</text>
<text x="304.10" y="568" text-anchor="middle">31</text>
<text x="350.82" y="568" text-anchor="middle">15</text>
<text x="397.54" y="568" text-anchor="middle">2</text>
<text x="444.26" y="568" text-anchor="middle">0</text>
<text x="70.00" y="579.4" text-anchor="middle">247</text>
<text x="117.22" y="579.4" text-anchor="middle">128</text>
<text x="163.94" y="579.4" text-anchor="middle">81</text>
<text x="210.66" y="579.4" text-anchor="middle">54</text>
<text x="257.38" y="579.4" text-anchor="middle">39</text>
<text x="304.10" y="579.4" text-anchor="middle">24</text>
<text x="350.82" y="579.4" text-anchor="middle">14</text>
<text x="397.54" y="579.4" text-anchor="middle">6</text>
<text x="444.26" y="579.4" text-anchor="middle">2</text>
<text x="490.98" y="579.4" text-anchor="middle">0</text>
</g>
</svg>
</body></html>
